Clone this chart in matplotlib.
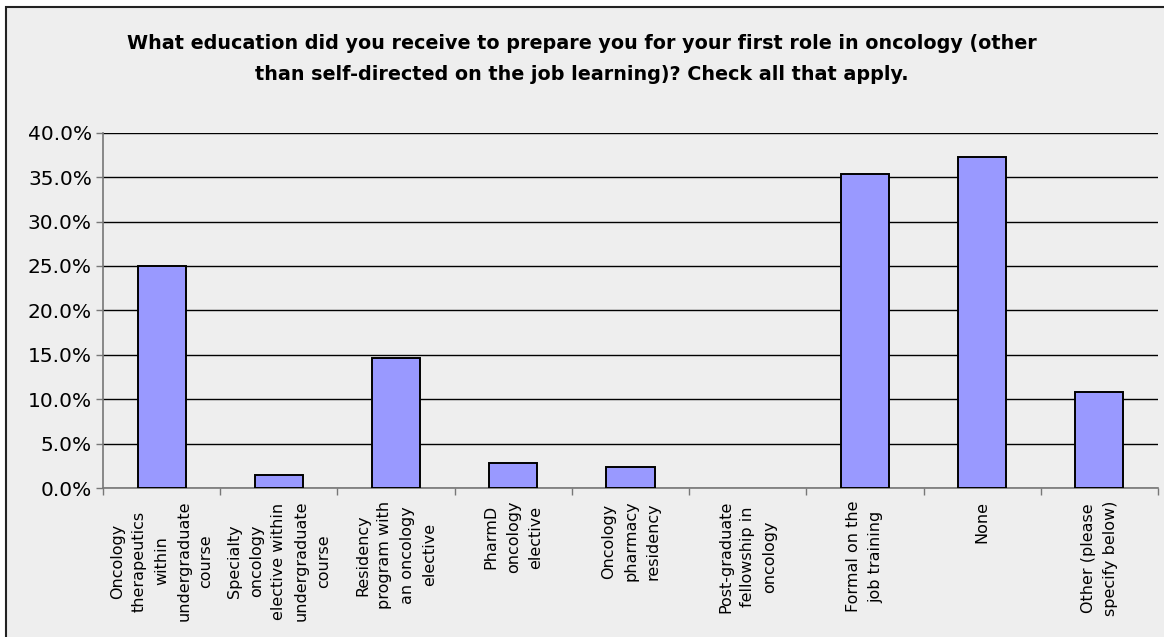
import matplotlib as mpl
mpl.use('Agg')
import matplotlib.pyplot as plt
from matplotlib.patches import Rectangle
from matplotlib.ticker import FuncFormatter, MultipleLocator
import numpy as np

## Data

title = ('What education did you receive to prepare you for your first role in oncology (other\n'
         'than self-directed on the job learning)? Check all that apply.')
categories = [
    'Oncology\ntherapeutics\nwithin\nundergraduate\ncourse',
    'Specialty\noncology\nelective within\nundergraduate\ncourse',
    'Residency\nprogram with\nan oncology\nelective',
    'PharmD\noncology\nelective',
    'Oncology\npharmacy\nresidency',
    'Post-graduate\nfellowship in\noncology',
    'Formal on the\njob training',
    'None',
    'Other (please\nspecify below)',
]
values = [25.0, 1.5, 14.7, 2.9, 2.4, 0.0, 35.3, 37.2, 10.8]

## Plot

W, H = 1164, 637
bg = '#eeeeee'
fig = plt.figure(figsize=(W / 100, H / 100), dpi=100, facecolor='white')

# chart frame (left and top edges visible, runs off the image right/bottom)
fig.patches.append(Rectangle((6 / W, -0.05), 1.1, 1 - 7 / H + 0.05, transform=fig.transFigure,
                             facecolor=bg, edgecolor='#222222', linewidth=1.5, zorder=-5))

ax = fig.add_axes([103 / W, 1 - 488.3 / H, (1158 - 103) / W, (488.3 - 132.6) / H])
ax.set_facecolor('none')
ax.set_zorder(2)

x = np.arange(len(categories))
edges = ['black' if v > 0 else 'none' for v in values]
ax.bar(x, values, width=0.41, color='#9999ff', edgecolor=edges, linewidth=1.4, zorder=3)

ax.set_xlim(-0.5, len(categories) - 0.5)
ax.set_ylim(0, 40)
ax.yaxis.set_major_locator(MultipleLocator(5))
ax.yaxis.set_major_formatter(FuncFormatter(lambda v, p: '%.1f%%' % v))
ax.grid(axis='y', color='black', linewidth=1.0, zorder=1)
ax.set_axisbelow(True)

for s in ['top', 'right']:
    ax.spines[s].set_visible(False)
for s in ['left', 'bottom']:
    ax.spines[s].set_color('#777777')
    ax.spines[s].set_linewidth(1.2)

ax.tick_params(axis='y', length=5, width=1, color='#777777', labelsize=14.5, pad=3)
ax.set_xticks(np.arange(len(categories) + 1) - 0.5)
ax.set_xticklabels([])
ax.tick_params(axis='x', length=5, width=1, color='#777777')

for i, lab in enumerate(categories):
    ax.text(i, -1.4, lab, rotation=90, ha='center', va='top', multialignment='center',
            fontsize=11.5, linespacing=1.6)

fig.text(582 / W, 1 - 59 / H, title, ha='center', va='center', fontsize=13.8,
         fontweight='bold', linespacing=1.75, zorder=3)

plt.savefig('out.png', dpi=100, facecolor=fig.get_facecolor())
